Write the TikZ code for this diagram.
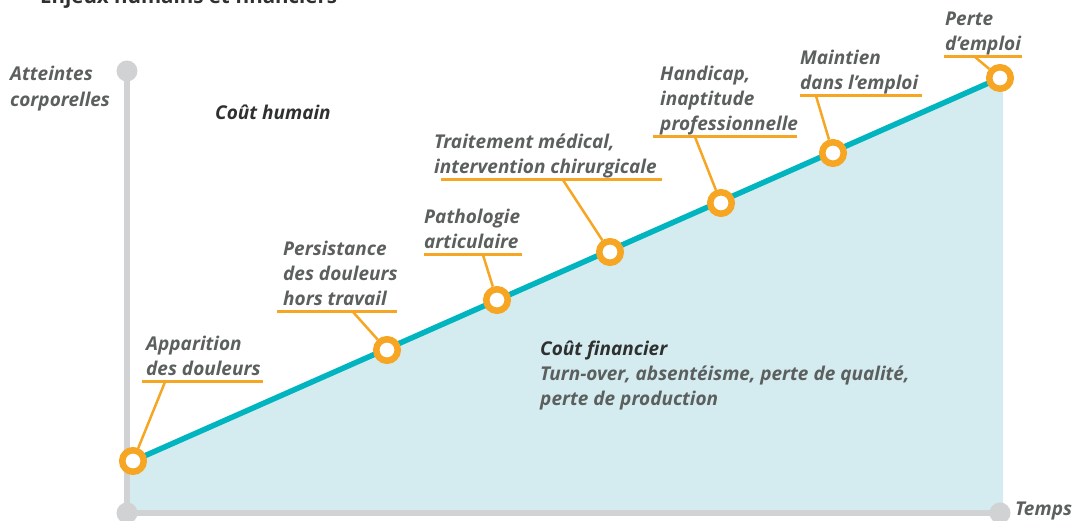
\documentclass[tikz,border=0pt]{standalone}
\usepackage{fontspec}
\setmainfont{Open Sans}
\definecolor{markorange}{HTML}{F6A623}
\definecolor{curveteal}{HTML}{00B5BF}
\definecolor{areablue}{HTML}{D4ECF0}
\definecolor{axisgray}{HTML}{D1D2D3}
\definecolor{labelgray}{HTML}{5B5F5E}
\definecolor{darktext}{HTML}{2F3030}
\tikzset{
  marker/.style={circle, draw=markorange, fill=white, line width=6.5pt, minimum size=21.5pt, inner sep=0pt},
  axisdot/.style={circle, fill=axisgray, minimum size=21pt, inner sep=0pt},
  axis/.style={draw=axisgray, line width=5.5pt},
  curve/.style={draw=curveteal, line width=5.5pt},
  txt/.style={align=left, inner sep=0pt, text=labelgray, font=\fontsize{19}{25}\selectfont\bfseries\itshape},
  lbl/.style={txt, inner ysep=6pt, text depth=0pt, anchor=south west},
  uline/.style={draw=markorange, line width=3pt},
  leader/.style={draw=markorange, line width=2.5pt},
}
\begin{document}
\begin{tikzpicture}[x=1pt, y=1pt]
  \useasboundingbox (0,0) rectangle (1074,521);

  % Title (cut off at the top)
  \node (title) [anchor=base west, inner sep=0pt, text=darktext, font=\fontsize{20.5}{25}\selectfont\bfseries] at (40,517) {Enjeux humains et financiers};

  % Points on the curve
  \coordinate (p1) at (133,60);
  \coordinate (p2) at (387,171);
  \coordinate (p3) at (497,221);
  \coordinate (p4) at (610,269);
  \coordinate (p5) at (721,318);
  \coordinate (p6) at (833,368);
  \coordinate (p7) at (1000,443);

  % Area under the curve
  \fill[areablue] (127,8) -- (127,60) -- (p7) -- (1003,443) -- (1003,8) -- cycle;

  % Axes
  \node (dtop) [axisdot] at (127,450) {};
  \node (dorig) [axisdot] at (127,8) {};
  \node (dend) [axisdot] at (1000,8) {};
  \draw[axis] (dtop.center) -- (dorig.center) -- (dend.center);

  % Curve and markers
  \draw[curve] (p1) -- (p7);
  \foreach \i in {1,...,7}
    \node (m\i) [marker] at (p\i) {};

  % Labels
  \node (l1) [lbl] at (146,139) {Apparition\\des douleurs};
  \draw[uline] (l1.south west) ++(-4,0) -- ++(121,0);
  \draw[leader] (l1.south west) ++(19,0) -- (m1);

  \node (l2) [lbl] at (283,209) {Persistance\\des douleurs\\hors travail};
  \draw[uline] (l2.south west) ++(-6,0) -- ++(120,0);
  \draw[leader] (l2.south west) ++(70,0) -- (m2);

  \node (l3) [lbl] at (424,266) {Pathologie\\articulaire};
  \draw[uline] (l3.south west) -- ++(98,0);
  \draw[leader] (l3.south west) ++(59,0) -- (m3);

  \node (l4) [lbl] at (434,341) {Traitement médical,\\intervention chirurgicale};
  \draw[uline] (l4.south west) ++(7,0) -- ++(221,0);
  \draw[leader] (l4.south west) ++(129,0) -- (m4);

  \node (l5) [lbl] at (660,384) {Handicap,\\inaptitude\\professionnelle};
  \draw[uline] (l5.south west) ++(-7,0) -- ++(144,0);
  \draw[leader] (l5.south west) ++(35,0) -- (m5);

  \node (l6) [lbl] at (800,425) {Maintien\\dans l’emploi};
  \draw[uline] (l6.south west) -- ++(122,0);
  \draw[leader] (l6.south west) ++(16,0) -- (m6);

  \node (l7) [lbl] at (945,464) {Perte\\d’emploi};
  \draw[uline] (l7.south west) ++(-1,0) -- ++(78,0);
  \draw[leader] (l7.south west) ++(30,0) -- (m7);

  % Other texts
  \node (yaxis) [txt, anchor=north west, font=\fontsize{19}{26}\selectfont\bfseries\itshape] at (10,455) {Atteintes\\corporelles};
  \node (human) [txt, anchor=base west, text=darktext] at (215,401) {Coût humain};
  \node (financial) [txt, anchor=north west] at (540,180) {\color{darktext}Coût financier\\Turn-over, absentéisme, perte de qualité,\\perte de production};
  \node (time) [txt, anchor=base west] at (1015,5) {Temps};
\end{tikzpicture}
\end{document}
